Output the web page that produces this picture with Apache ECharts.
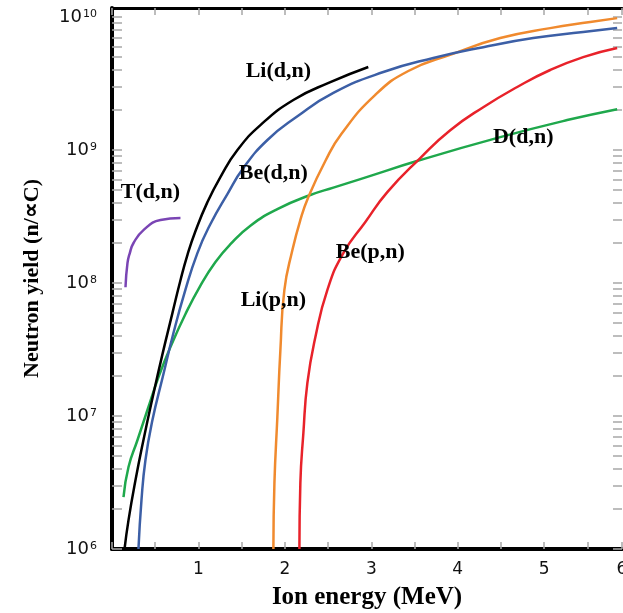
<!DOCTYPE html>
<html>
<head>
<meta charset="utf-8">
<title>Neutron yield vs ion energy</title>
<script src="https://cdn.jsdelivr.net/npm/echarts@6/dist/echarts.min.js"></script>
<style>
  html, body { margin: 0; padding: 0; background: #fff; }
  #chart { width: 623px; height: 613px; }
</style>
</head>
<body>
<div id="chart"></div>
<script>
// ion energy (MeV) and neutron yield (n/uC)
const liDnEnergy = [0.145, 0.191, 0.272, 0.364, 0.468, 0.584, 0.699, 0.792, 0.873, 0.965, 1.104, 1.254, 1.451, 1.717, 2.098, 2.526, 2.965];
const liDnYield = [1.0e6, 1.65e6, 3.3e6, 6.6e6, 1.36e7, 2.92e7, 5.94e7, 1.05e8, 1.63e8, 2.45e8, 4.06e8, 6.27e8, 1.0e9, 1.54e9, 2.38e9, 3.24e9, 4.21e9];

const beDnEnergy = [0.306, 0.341, 0.387, 0.468, 0.584, 0.711, 0.838, 0.988, 1.139, 1.335, 1.52, 1.798, 2.133, 2.561, 3.139, 3.717, 4.295, 4.873, 5.451, 5.844];
const beDnYield = [1.0e6, 2.33e6, 4.67e6, 9.33e6, 1.93e7, 4.21e7, 8.4e7, 1.68e8, 2.78e8, 4.67e8, 7.33e8, 1.19e9, 1.77e9, 2.69e9, 3.86e9, 4.92e9, 5.94e9, 6.95e9, 7.71e9, 8.26e9];

const dDnEnergy = [0.133, 0.191, 0.295, 0.41, 0.538, 0.676, 0.85, 1.023, 1.197, 1.37, 1.601, 1.913, 2.295, 2.561, 2.873, 3.566, 4.491, 5.266, 5.844];
const dDnYield = [2.46e6, 4.14e6, 6.6e6, 1.11e7, 1.96e7, 3.3e7, 5.85e7, 9.57e7, 1.44e8, 1.96e8, 2.7e8, 3.6e8, 4.59e8, 5.22e8, 6.05e8, 8.41e8, 1.25e9, 1.68e9, 2.03e9];

const tDnEnergy = [0.156, 0.179, 0.206, 0.249, 0.364, 0.561, 0.792];
const tDnYield = [9.3e7, 1.41e8, 1.68e8, 2.0e8, 2.5e8, 2.98e8, 3.08e8];

const liPnEnergy = [1.867, 1.879, 1.913, 1.948, 1.994, 2.087, 2.179, 2.272, 2.468, 2.653, 3.046, 3.428, 3.936, 4.491, 5.069, 5.532, 5.844];
const liPnYield = [1.0e6, 3.13e6, 9.82e6, 3.13e7, 8.85e7, 1.77e8, 2.98e8, 4.44e8, 8.27e8, 1.32e9, 2.6e9, 3.93e9, 5.27e9, 6.95e9, 8.26e9, 9.17e9, 9.82e9];

const bePnEnergy = [2.168, 2.179, 2.214, 2.26, 2.353, 2.491, 2.676, 2.931, 3.185, 3.566, 3.913, 4.295, 4.688, 5.069, 5.451, 5.844];
const bePnYield = [1.0e6, 3.13e6, 7.45e6, 1.77e7, 3.93e7, 8.85e7, 1.68e8, 2.88e8, 4.83e8, 8.71e8, 1.41e9, 2.1e9, 2.98e9, 4.0e9, 5.0e9, 5.85e9];

// curve captions, placed in data space
const labelNames = ['Li(d,n)', 'Be(d,n)', 'T(d,n)', 'Li(p,n)', 'Be(p,n)', 'D(d,n)'];
const labelEnergy = [1.925, 1.867, 0.445, 1.867, 2.988, 4.757];
const labelYield = [3.93e9, 6.7e8, 4.83e8, 7.45e7, 1.71e8, 1.25e9];

// y ticks
const yDecades = [1e6, 1e7, 1e8, 1e9, 1e10];
const yMantissas = [2, 3, 4, 5, 6, 7, 8, 9];
const yTicks = yDecades.slice();
yDecades.slice(0, 4).forEach(d => yMantissas.forEach(m => yTicks.push(m * d)));

const yMin = 1e6;
const yMax = 1.17e10;
const xMin = 0;
const xMax = 5.9;

const serif = 'Liberation Serif';
const sans = 'DejaVu Sans';
const tickGrey = '#a8a8a8';

function pairs(xs, ys) {
  return xs.map((x, i) => [x, ys[i]]);
}

function curve(name, xs, ys, color) {
  return {
    name,
    type: 'line',
    data: pairs(xs, ys),
    smooth: 0.5,
    showSymbol: false,
    symbol: 'none',
    lineStyle: { color, width: 2.5 },
    itemStyle: { color },
    z: 3,
  };
}

const chart = echarts.init(document.getElementById('chart'));

chart.setOption({
  animation: false,
  backgroundColor: '#fff',
  grid: {
    left: 112,
    right: 1,
    top: 8,
    bottom: 64,
    containLabel: false,
    outerBoundsMode: 'none',
  },
  xAxis: [
    {
      type: 'value',
      position: 'bottom',
      min: xMin,
      max: xMax,
      interval: 0.5,
      name: 'Ion energy (MeV)',
      nameLocation: 'middle',
      nameGap: 36,
      nameMoveOverlap: false,
      nameTextStyle: { fontFamily: serif, fontWeight: 'bold', fontSize: 25, color: '#000' },
      axisLine: { onZero: false, lineStyle: { color: '#000', width: 4 } },
      axisTick: { inside: true, length: 7, lineStyle: { color: tickGrey, width: 1.5 } },
      axisLabel: {
        margin: 12,
        fontFamily: sans,
        fontSize: 17,
        color: '#111',
        showMinLabel: true,
        showMaxLabel: true,
        formatter: v => {
          if (v === xMax) return '6';
          return (v > 0 && Number.isInteger(v)) ? String(v) : '';
        },
      },
      splitLine: { show: false },
    },
    {
      type: 'value',
      position: 'top',
      min: xMin,
      max: xMax,
      interval: 0.5,
      axisLine: { onZero: false, lineStyle: { color: '#000', width: 3 } },
      axisTick: { inside: true, length: 7, lineStyle: { color: tickGrey, width: 1.5 } },
      axisLabel: { show: false },
      splitLine: { show: false },
    },
  ],
  yAxis: [
    {
      type: 'log',
      logBase: 10,
      min: yMin,
      max: yMax,
      position: 'left',
      name: 'Neutron yield (n/\u221DC)',
      nameLocation: 'middle',
      nameGap: 69,
      nameRotate: 90,
      nameMoveOverlap: false,
      nameTextStyle: { fontFamily: serif, fontWeight: 'bold', fontSize: 22, color: '#000' },
      axisLine: { show: true, onZero: false, lineStyle: { color: '#000', width: 4 } },
      axisTick: { show: true, inside: true, length: 10, customValues: yTicks, lineStyle: { color: tickGrey, width: 1.5 } },
      axisLabel: {
        show: true,
        margin: 15,
        customValues: yDecades,
        formatter: v => '{b|10}{s|' + Math.round(Math.log10(v)) + '}',
        rich: {
          b: { fontFamily: sans, fontSize: 18, color: '#111' },
          s: { fontFamily: sans, fontSize: 11, color: '#111', verticalAlign: 'top', padding: [1, 0, 0, 1] },
        },
      },
      splitLine: { show: false },
    },
    {
      type: 'log',
      logBase: 10,
      min: yMin,
      max: yMax,
      position: 'right',
      axisLine: { show: false, onZero: false },
      axisTick: { show: true, inside: true, length: 9, customValues: yTicks, lineStyle: { color: tickGrey, width: 1.5 } },
      axisLabel: { show: false },
      splitLine: { show: false },
    },
  ],
  series: [
    curve('T(d,n)', tDnEnergy, tDnYield, '#7a45b4'),
    curve('D(d,n)', dDnEnergy, dDnYield, '#1fa84c'),
    curve('Li(p,n)', liPnEnergy, liPnYield, '#f08a2e'),
    curve('Be(p,n)', bePnEnergy, bePnYield, '#e8222a'),
    curve('Be(d,n)', beDnEnergy, beDnYield, '#3c5fa6'),
    curve('Li(d,n)', liDnEnergy, liDnYield, '#000000'),
    {
      name: 'captions',
      type: 'scatter',
      symbolSize: 0,
      itemStyle: { color: '#000' },
      data: labelNames.map((n, i) => ({ name: n, value: [labelEnergy[i], labelYield[i]] })),
      label: {
        show: true,
        position: 'inside',
        formatter: '{b}',
        fontFamily: serif,
        fontWeight: 'bold',
        fontSize: 22,
        color: '#000',
        textBorderWidth: 0,
        opacity: 1,
      },
      z: 5,
    },
  ],
});
</script>
</body>
</html>
